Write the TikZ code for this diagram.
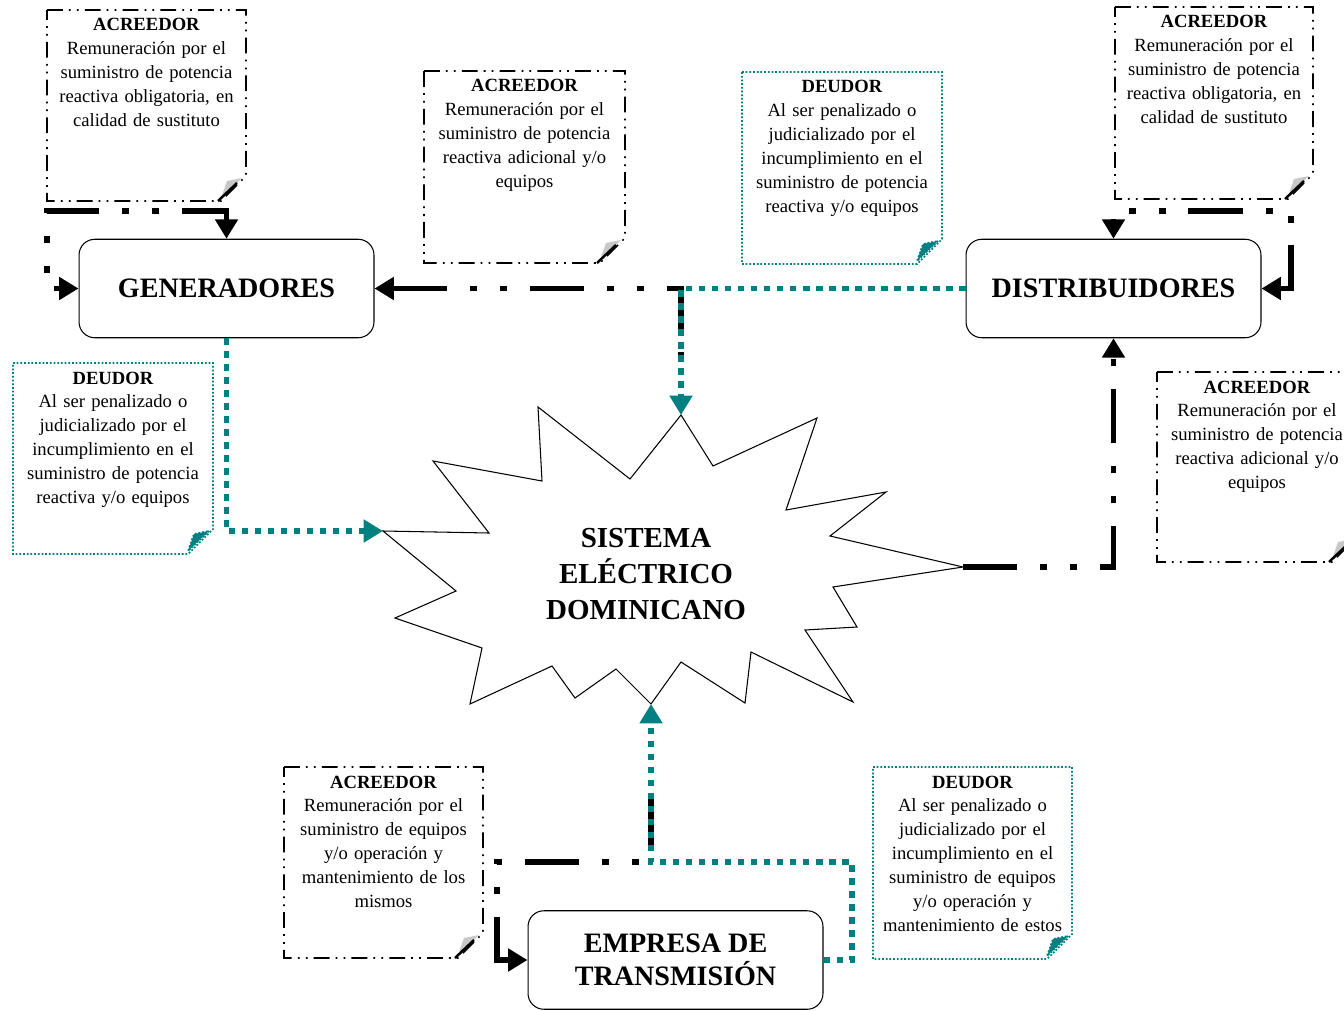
\documentclass[tikz,border=0pt]{standalone}
\usepackage{fontspec}
\setmainfont{Liberation Serif}
\usetikzlibrary{arrows.meta,calc}

\definecolor{debcol}{RGB}{0,128,128}
\definecolor{flapgray}{RGB}{200,200,200}

% note sheet with folded corner: name, x1, y1, x2, y2, frame style, flap style
\newcommand{\notesheet}[7]{%
  \draw[#6] (#2,#3) -- (#4,#3) -- (#4,#5-25) -- (#4-25,#5) -- (#2,#5) -- cycle;
  \filldraw[fill=flapgray,#7] (#4-4,#5-23) -- (#4-25,#5-3) -- (#4-19,#5-20) -- cycle;
  \coordinate (#1) at ({(#2+#4)/2},#3+21);
}

\tikzset{
  tri/.tip={Triangle[length=11pt,width=12.5pt]},
  credit/.style={line width=3.1pt,
    dash pattern=on 31pt off 13pt on 4pt off 13pt on 4pt off 13pt},
  debit/.style={debcol, line width=3.1pt, dash pattern=on 3.7pt off 3.7pt},
  acrframe/.style={line width=0.9pt,
    dash pattern=on 9pt off 3.5pt on 1pt off 3.5pt on 1pt off 3.5pt},
  debframe/.style={debcol, line width=1pt, dash pattern=on 1pt off 1.1pt},
  acrflap/.style={draw=none},
  debflap/.style={debframe},
  actor/.style={draw, line width=0.6pt, rounded corners=9pt,
    minimum width=5.9cm, minimum height=1.97cm, align=center,
    font=\fontsize{16pt}{19pt}\selectfont\bfseries},
  notetext/.style={anchor=base, text width=3.9cm, align=center, inner sep=0pt,
    font=\fontsize{10.6pt}{13.6pt}\selectfont}
}

\begin{document}
\begin{tikzpicture}[x=0.02cm, y=-0.02cm]
  \useasboundingbox (0,0) rectangle (1344,1010);

  % actors
  \node[actor] (GEN) at (226.5,288.5) {GENERADORES};
  \node[actor] (DIST) at (1113.5,288.5) {DISTRIBUIDORES};
  \node[actor] (EMP) at (675.5,960) {EMPRESA DE\\TRANSMISIÓN};

  % system
  \draw[line width=0.6pt] (538,407) -- (542,481) -- (433,461) -- (489,533)
    -- (383,531) -- (456,591) -- (395,618) -- (482,648) -- (470,704)
    -- (552,666) -- (575,698) -- (616,669) -- (651,704) -- (681,662)
    -- (745,703) -- (751,652) -- (853,702) -- (805,630) -- (857,627)
    -- (833,587) -- (963,567) -- (830,536) -- (886,492) -- (786,510)
    -- (817,418) -- (713,466) -- (681,415) -- (630,479) -- cycle;
  \node[align=center, font=\fontsize{16.5pt}{20.4pt}\selectfont\bfseries]
    (SED) at (646,574) {SISTEMA\\ELÉCTRICO\\DOMINICANO};
  \coordinate (sTop) at (681,415);
  \coordinate (sLeft) at (383,531);
  \coordinate (sRight) at (963,567);
  \coordinate (sBot) at (651,704);

  % notes
  \notesheet{n1}{47}{10}{246}{201}{acrframe}{acrflap}
  \notesheet{n2}{424}{71}{625}{263}{acrframe}{acrflap}
  \notesheet{n3}{742}{72}{942}{264}{debframe}{debflap}
  \notesheet{n4}{1115}{7}{1313}{199}{acrframe}{acrflap}
  \notesheet{n5}{13}{363}{213}{554}{debframe}{debflap}
  \notesheet{n6}{1157}{372}{1357}{562}{acrframe}{acrflap}
  \notesheet{n7}{284}{767}{483}{958}{acrframe}{acrflap}
  \notesheet{n8}{873}{767}{1072}{959}{debframe}{debflap}
  \foreach \n/\x/\y in {n1/246/201, n2/625/263, n4/1313/199, n6/1357/562, n7/483/958}
    \draw[line width=1.4pt] (\x-28,\y) -- (\x-9,\y-18);

  \node[notetext] (t1) at (n1) {\textbf{ACREEDOR}\\Remuneración por el\\suministro de potencia\\reactiva obligatoria, en\\calidad de sustituto};
  \node[notetext] (t2) at (n2) {\textbf{ACREEDOR}\\Remuneración por el\\suministro de potencia\\reactiva adicional y/o\\equipos};
  \node[notetext] (t3) at (n3) {\textbf{DEUDOR}\\Al ser penalizado o\\judicializado por el\\incumplimiento en el\\suministro de potencia\\reactiva y/o equipos};
  \node[notetext] (t4) at (n4) {\textbf{ACREEDOR}\\Remuneración por el\\suministro de potencia\\reactiva obligatoria, en\\calidad de sustituto};
  \node[notetext] (t5) at (n5) {\textbf{DEUDOR}\\Al ser penalizado o\\judicializado por el\\incumplimiento en el\\suministro de potencia\\reactiva y/o equipos};
  \node[notetext] (t6) at (n6) {\textbf{ACREEDOR}\\Remuneración por el\\suministro de potencia\\reactiva adicional y/o\\equipos};
  \node[notetext] (t7) at (n7) {\textbf{ACREEDOR}\\Remuneración por el\\suministro de equipos\\y/o operación y\\mantenimiento de los\\mismos};
  \node[notetext] (t8) at (n8) {\textbf{DEUDOR}\\Al ser penalizado o\\judicializado por el\\incumplimiento en el\\suministro de equipos\\y/o operación y\\mantenimiento de estos};

  % bends
  \coordinate (gBend) at (47,211);
  \coordinate (dBend) at (1291,211);
  \coordinate (gDrop) at (681,372);
  \coordinate (eTop) at (651,797);
  \coordinate (eBend) at (497,862);
  \coordinate (tBend) at (852,862);

  % credits (black)
  \draw[credit,{tri}-{tri}] (GEN.north) |- (gBend) |- (GEN.west);
  \draw[credit,{tri}-{tri}] (DIST.east) -| (dBend) -| (DIST.north);
  \draw[credit,{tri}-] (GEN.east) -| (gDrop);
  \draw[credit,-{tri}] (sRight) -| (DIST.south);
  \draw[credit,-{tri}] (eTop) |- (eBend) |- (EMP.west);

  % debits (teal)
  \draw[debit,-{tri}] (DIST.west) -| (sTop);
  \draw[debit,-{tri}] (GEN.south) |- (sLeft);
  \draw[debit,-{tri}] (EMP.east) -| (tBend) -| (sBot);
\end{tikzpicture}
\end{document}
